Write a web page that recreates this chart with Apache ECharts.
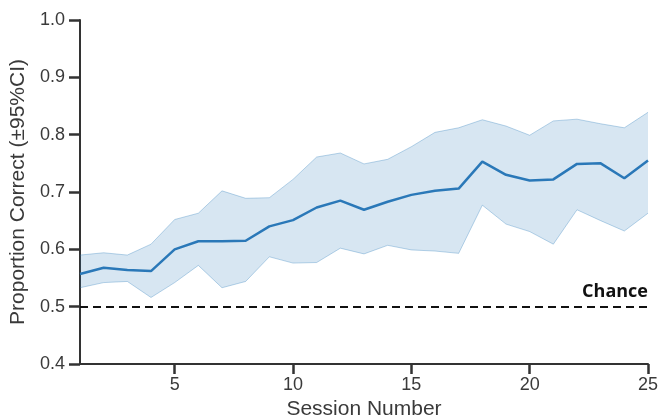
<!DOCTYPE html>
<html>
<head>
<meta charset="utf-8">
<script src="https://cdn.jsdelivr.net/npm/echarts@6/dist/echarts.min.js"></script>
<style>
  html, body { margin: 0; padding: 0; background: #fff; }
  #chart { width: 659px; height: 417px; }
</style>
</head>
<body>
<div id="chart"></div>
<script>
// Session numbers along the x axis
const sessions = [1,2,3,4,5,6,7,8,9,10,11,12,13,14,15,16,17,18,19,20,21,22,23,24,25];
// Mean proportion correct per session
const meanCorrect = [0.557,0.568,0.564,0.562,0.600,0.614,0.614,0.615,0.640,0.651,0.673,0.685,0.669,0.683,0.695,0.702,0.706,0.753,0.730,0.720,0.722,0.749,0.750,0.724,0.755];
// 95% confidence interval bounds
const ciUpper = [0.590,0.594,0.590,0.609,0.652,0.663,0.702,0.689,0.690,0.722,0.761,0.768,0.749,0.757,0.779,0.804,0.812,0.826,0.815,0.799,0.824,0.827,0.819,0.812,0.839];
const ciLower = [0.533,0.542,0.544,0.516,0.542,0.572,0.533,0.544,0.587,0.576,0.577,0.602,0.592,0.607,0.599,0.597,0.593,0.677,0.644,0.631,0.609,0.669,0.650,0.632,0.663];
// Chance level reference
const chanceLevel = 0.5;
const xTickValues = [5, 10, 15, 20, 25];

const axisColor = '#333333';
const textColor = '#3a3a3a';
const lineBlue = '#2a78b8';
const bandFill = 'rgba(43,123,186,0.27)';
const bandEdge = 'rgba(43,123,186,0.32)';
const baseFont = '"Liberation Sans", Arial, sans-serif';

const ciSpan = ciUpper.map((u, i) => +(u - ciLower[i]).toFixed(4));

const chart = echarts.init(document.getElementById('chart'), null, { renderer: 'canvas' });
chart.setOption({
  animation: false,
  backgroundColor: '#ffffff',
  grid: { left: 80, right: 11, top: 20, bottom: 53, containLabel: false, outerBoundsMode: 'none' },
  xAxis: {
    type: 'category',
    data: sessions.map(String),
    boundaryGap: false,
    name: 'Session Number',
    nameLocation: 'middle',
    nameGap: 33,
    nameTextStyle: { fontFamily: baseFont, fontSize: 21, color: textColor },
    axisLine: { show: true, lineStyle: { color: axisColor, width: 2 } },
    axisTick: {
      show: true,
      length: 10,
      lineStyle: { color: axisColor, width: 2.5 },
      interval: (idx, val) => xTickValues.includes(Number(val))
    },
    axisLabel: {
      interval: (idx, val) => xTickValues.includes(Number(val)),
      fontFamily: baseFont, fontSize: 18, color: textColor, margin: 12
    },
    splitLine: { show: false }
  },
  yAxis: {
    type: 'value',
    min: 0.4, max: 1.0, interval: 0.1,
    name: 'Proportion Correct (±95%CI)',
    nameLocation: 'middle',
    nameGap: 46,
    nameTextStyle: { fontFamily: baseFont, fontSize: 21, color: textColor },
    axisLine: { show: true, lineStyle: { color: axisColor, width: 2 } },
    axisTick: { show: true, length: 11, lineStyle: { color: axisColor, width: 2.5 } },
    axisLabel: {
      formatter: v => v.toFixed(1),
      fontFamily: baseFont, fontSize: 18, color: textColor, margin: 15
    },
    splitLine: { show: false }
  },
  series: [
    {
      name: 'ciLower',
      type: 'line',
      data: ciLower,
      stack: 'ci',
      symbol: 'none',
      silent: true,
      lineStyle: { color: bandEdge, width: 1 },
      z: 1
    },
    {
      name: 'ciBand',
      type: 'line',
      data: ciSpan,
      stack: 'ci',
      symbol: 'none',
      silent: true,
      lineStyle: { color: bandEdge, width: 1 },
      areaStyle: { color: bandFill, origin: 'auto' },
      z: 1
    },
    {
      name: 'mean',
      type: 'line',
      data: meanCorrect,
      symbol: 'none',
      lineStyle: { color: lineBlue, width: 2.5 },
      z: 3,
      markLine: {
        silent: true,
        symbol: 'none',
        lineStyle: { color: '#111111', width: 2.2, type: [8, 5] },
        label: {
          show: true,
          position: 'insideEndTop',
          formatter: 'Chance',
          fontFamily: '"Open Sans", "Noto Sans", sans-serif',
          fontWeight: 'bold',
          fontSize: 18,
          color: '#111111',
          distance: [0, 6]
        },
        data: [{ yAxis: chanceLevel }]
      }
    }
  ]
});
</script>
</body>
</html>
